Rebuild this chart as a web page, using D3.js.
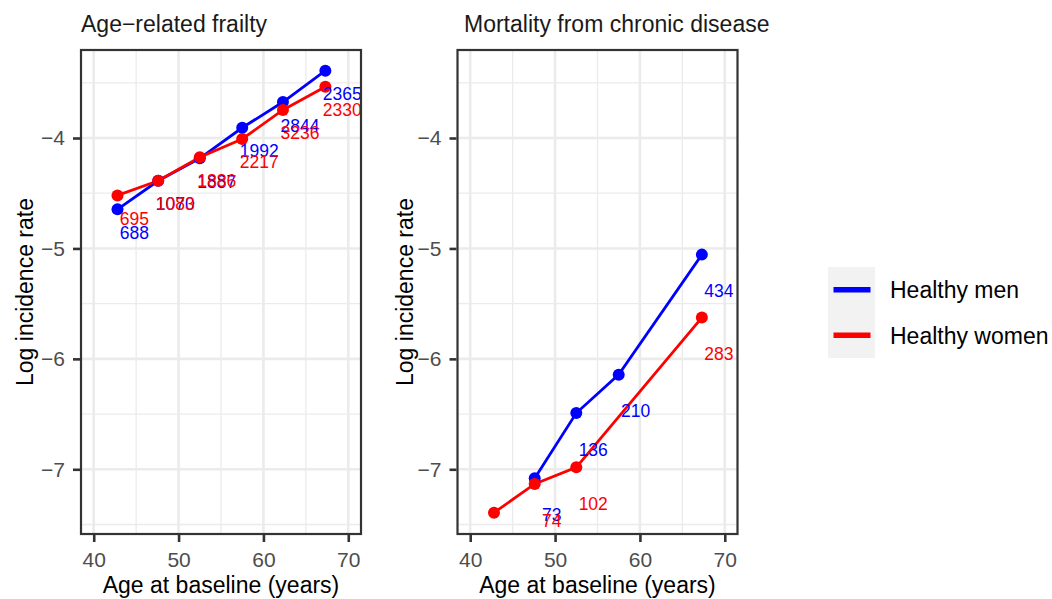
<!DOCTYPE html>
<html>
<head>
<meta charset="utf-8">
<script src="https://cdn.jsdelivr.net/npm/d3@7"></script>
<style>
  body { margin: 0; background: #fff; }
  text { font-family: "Liberation Sans", Arial, Helvetica, sans-serif; }
</style>
</head>
<body>
<svg id="chart" width="1052" height="599"></svg>
<script>
// ---- data ----
const ageGroups = [42.8, 47.6, 52.5, 57.5, 62.3, 67.3];
const xTicks = [40, 50, 60, 70];
const xMinor = [45, 55, 65];
const yTicks = [-7, -6, -5, -4];
const yMinor = [-7.5, -6.5, -5.5, -4.5, -3.5];

const seriesNames = ["Healthy men", "Healthy women"];
const seriesColors = ["#0000ff", "#ff0000"];

// Age-related frailty: log incidence rate and number of cases per age group
const frailtyMen = [-4.646, -4.387, -4.184, -3.907, -3.674, -3.390];
const frailtyWomen = [-4.520, -4.387, -4.175, -4.009, -3.746, -3.535];
const frailtyMenCases = [688, 1070, 1887, 1992, 2844, 2365];
const frailtyWomenCases = [695, 1083, 1886, 2217, 3236, 2330];

// Mortality from chronic disease (null = no rate for that age group)
const mortalityMen = [null, -7.082, -6.491, -6.143, null, -5.056];
const mortalityWomen = [-7.393, -7.133, -6.982, null, null, -5.626];
const mortalityMenCases = [null, 73, 136, 210, null, 434];
const mortalityWomenCases = [null, 74, 102, null, null, 283];

const panelTitles = ["Age\u2212related frailty", "Mortality from chronic disease"];
const xTitle = "Age at baseline (years)";
const yTitle = "Log incidence rate";

// ---- layout ----
const svg = d3.select("#chart");
const panelTop = 50, panelBottom = 534, panelWidth = 280;
const panels = [
  { left: 81, titleX: 81, yTitleX: 32.5, nudgeY: 0.21,
    title: panelTitles[0],
    series: [[frailtyMen, frailtyMenCases], [frailtyWomen, frailtyWomenCases]] },
  { left: 457.5, titleX: 464, yTitleX: 413, nudgeY: 0.33,
    title: panelTitles[1],
    series: [[mortalityMen, mortalityMenCases], [mortalityWomen, mortalityWomenCases]] }
];

const y = d3.scaleLinear().domain([-7.586, -3.203]).range([panelBottom, panelTop]);
const labelNudgeX = 2;
const fmt = d3.format("d");

panels.forEach((p, pi) => {
  const x = d3.scaleLinear().domain([38.5, 71.5]).range([p.left, p.left + panelWidth]);
  const g = svg.append("g");

  // background + grid
  g.append("rect").attr("x", p.left).attr("y", panelTop)
    .attr("width", panelWidth).attr("height", panelBottom - panelTop).attr("fill", "#fff");
  g.selectAll(".xminor").data(xMinor).enter().append("line")
    .attr("x1", d => x(d)).attr("x2", d => x(d)).attr("y1", panelTop).attr("y2", panelBottom)
    .attr("stroke", "#ebebeb").attr("stroke-width", 1.3);
  g.selectAll(".yminor").data(yMinor).enter().append("line")
    .attr("y1", d => y(d)).attr("y2", d => y(d)).attr("x1", p.left).attr("x2", p.left + panelWidth)
    .attr("stroke", "#ebebeb").attr("stroke-width", 1.3);
  g.selectAll(".xmajor").data(xTicks).enter().append("line")
    .attr("x1", d => x(d)).attr("x2", d => x(d)).attr("y1", panelTop).attr("y2", panelBottom)
    .attr("stroke", "#ebebeb").attr("stroke-width", 2.6);
  g.selectAll(".ymajor").data(yTicks).enter().append("line")
    .attr("y1", d => y(d)).attr("y2", d => y(d)).attr("x1", p.left).attr("x2", p.left + panelWidth)
    .attr("stroke", "#ebebeb").attr("stroke-width", 2.6);

  // clipped data layer
  const clipId = "clip" + pi;
  svg.append("clipPath").attr("id", clipId).append("rect")
    .attr("x", p.left).attr("y", panelTop)
    .attr("width", panelWidth).attr("height", panelBottom - panelTop);
  const data = svg.append("g").attr("clip-path", `url(#${clipId})`);

  const seriesPts = p.series.map(([vals, cases]) =>
    ageGroups.map((a, i) => ({ age: a, v: vals[i], n: cases[i] })).filter(d => d.v !== null));

  const line = d3.line().x(d => x(d.age)).y(d => y(d.v));
  seriesPts.forEach((pts, si) => {
    data.append("path").datum(pts).attr("d", line)
      .attr("fill", "none").attr("stroke", seriesColors[si]).attr("stroke-width", 2.8);
  });
  seriesPts.forEach((pts, si) => {
    data.selectAll(null).data(pts).enter().append("circle")
      .attr("cx", d => x(d.age)).attr("cy", d => y(d.v)).attr("r", 6)
      .attr("fill", seriesColors[si]);
  });
  seriesPts.forEach((pts, si) => {
    data.selectAll(null).data(pts.filter(d => d.n !== null)).enter().append("text")
      .attr("x", d => x(d.age + labelNudgeX)).attr("y", d => y(d.v - p.nudgeY))
      .attr("dy", "0.36em").attr("text-anchor", "middle")
      .attr("font-size", "17.5px").attr("fill", seriesColors[si])
      .text(d => fmt(d.n));
  });

  // panel border
  svg.append("rect").attr("x", p.left).attr("y", panelTop)
    .attr("width", panelWidth).attr("height", panelBottom - panelTop)
    .attr("fill", "none").attr("stroke", "#333").attr("stroke-width", 2.2);

  // axes
  const xAxis = svg.append("g").attr("transform", `translate(0,${panelBottom + 1})`)
    .call(d3.axisBottom(x).tickValues(xTicks).tickSize(7).tickPadding(10).tickFormat(fmt));
  const yAxis = svg.append("g").attr("transform", `translate(${p.left - 1},0)`)
    .call(d3.axisLeft(y).tickValues(yTicks).tickSize(7).tickPadding(8).tickFormat(d3.format("d")));
  [xAxis, yAxis].forEach(ax => {
    ax.select(".domain").remove();
    ax.selectAll(".tick line").attr("stroke", "#333").attr("stroke-width", 2.6);
    ax.selectAll(".tick text").attr("fill", "#4d4d4d").attr("font-size", "21px")
      .style("font-family", '"Liberation Sans", Arial, sans-serif');
  });

  // titles
  svg.append("text").attr("x", p.titleX).attr("y", 31.5)
    .attr("font-size", "23px").attr("fill", "#1a1a1a").text(p.title);
  svg.append("text").attr("x", p.left + panelWidth / 2).attr("y", 592.5)
    .attr("text-anchor", "middle").attr("font-size", "23px").attr("fill", "#000").text(xTitle);
  svg.append("text")
    .attr("transform", `translate(${p.yTitleX},${(panelTop + panelBottom) / 2}) rotate(-90)`)
    .attr("text-anchor", "middle").attr("font-size", "23px").attr("fill", "#000").text(yTitle);
});

// ---- legend ----
const legend = svg.append("g");
const keyY = d3.scaleBand().domain(seriesNames).range([267, 358]);
legend.append("rect").attr("x", 828).attr("y", 267).attr("width", 47).attr("height", 91)
  .attr("fill", "#f2f2f2");
seriesNames.forEach((name, i) => {
  const cy = keyY(name) + keyY.bandwidth() / 2;
  legend.append("line").attr("x1", 833.5).attr("x2", 870.5).attr("y1", cy).attr("y2", cy)
    .attr("stroke", seriesColors[i]).attr("stroke-width", 5.5);
  legend.append("text").attr("x", 890).attr("y", cy).attr("dy", "0.36em")
    .attr("font-size", "23px").attr("fill", "#000").text(name);
});
</script>
</body>
</html>
